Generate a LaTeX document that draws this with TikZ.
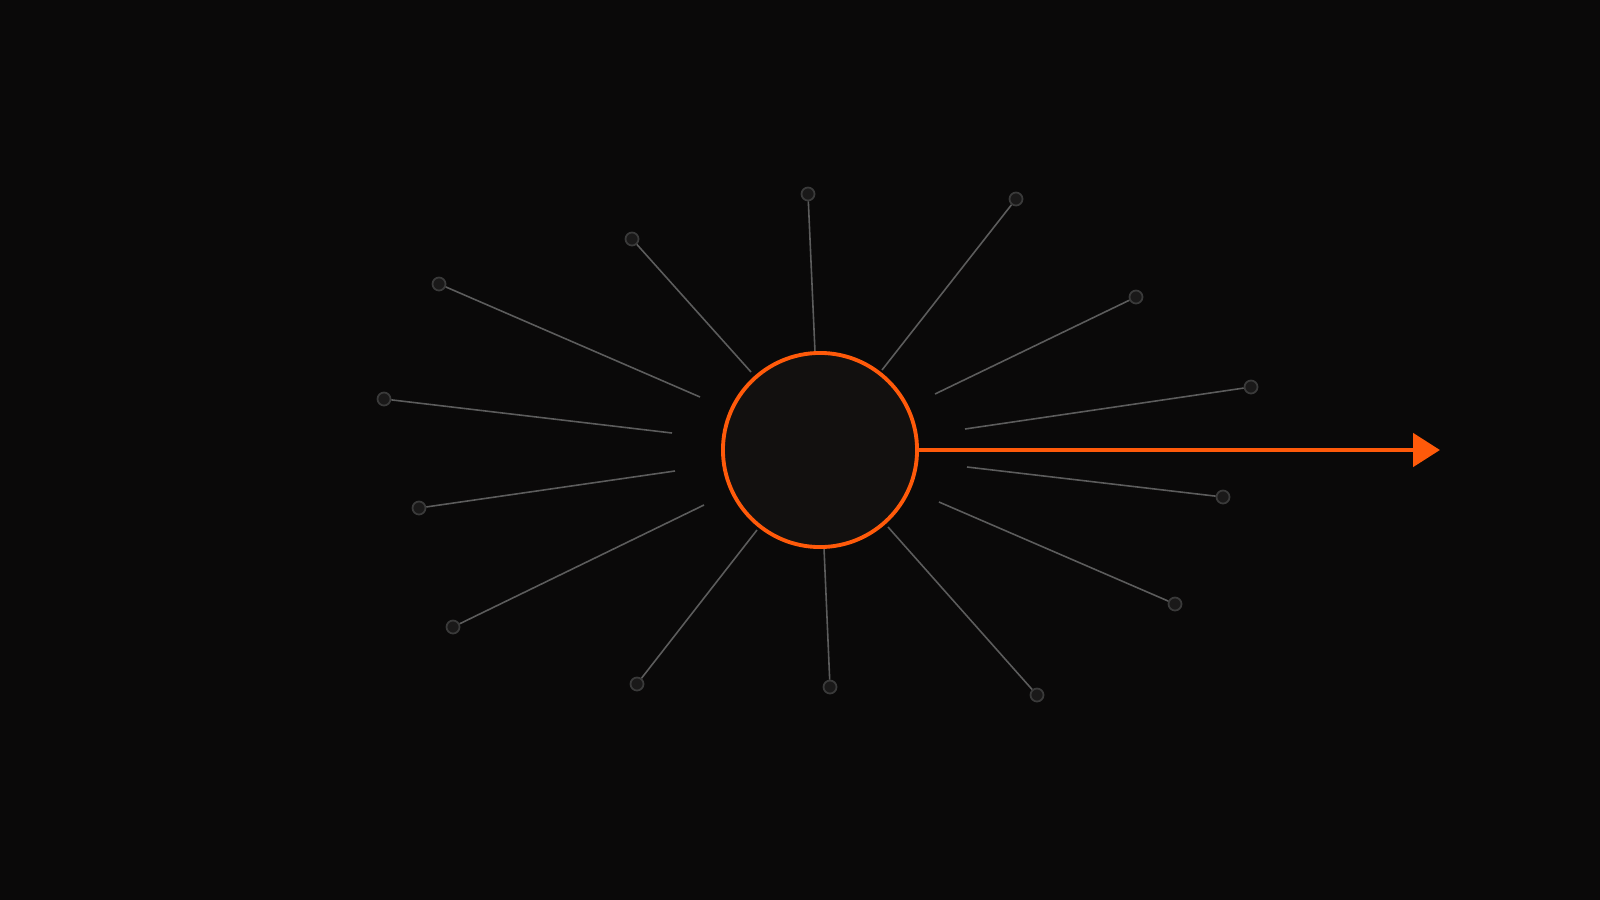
\documentclass[tikz,border=0pt]{standalone}
\usetikzlibrary{arrows.meta}
\definecolor{bgdark}{HTML}{0A0909}
\definecolor{hubfill}{HTML}{12100F}
\definecolor{hubline}{HTML}{FF5A0A}
\definecolor{spokegray}{HTML}{5C5C5C}
\definecolor{dotfill}{HTML}{1A1919}
\definecolor{dotline}{HTML}{3A3A3A}
\tikzset{
  dot/.style={circle,fill=dotfill,draw=dotline,line width=.5pt,minimum size=.13cm,inner sep=0pt},
  spoke/.style={spokegray,line width=.45pt},
  hub/.style={circle,fill=hubfill,draw=hubline,line width=1.1pt,minimum size=1.94cm,inner sep=0pt}
}
\begin{document}
\begin{tikzpicture}[x=.01cm,y=-.01cm]
\fill [bgdark] (0,0) rectangle (1600,900);
\foreach \i/\ox/\oy/\ix/\iy in {
  1/808/194/815/352, 2/1016/199/882/370, 3/1136/297/935/394,
  4/1251/387/965/429, 5/1223/497/967/467, 6/1175/604/939/502,
  7/1037/695/888/527, 8/830/687/824/548, 9/637/684/757/530,
  10/453/627/704/505, 11/419/508/675/471, 12/384/399/672/433,
  13/439/284/700/397, 14/632/239/751/372} {
  \node [dot] (d\i) at (\ox,\oy) {};
  \coordinate (e\i) at (\ix,\iy);
  \draw [spoke] (e\i) -- (d\i);
}
\node [hub] (hub) at (820,450) {};
\coordinate (tip) at (1440,450);
\draw [hubline,line width=1.4pt,-{Triangle[length=.27cm,width=.33cm]}] (hub.east) -- (tip);
\end{tikzpicture}
\end{document}
